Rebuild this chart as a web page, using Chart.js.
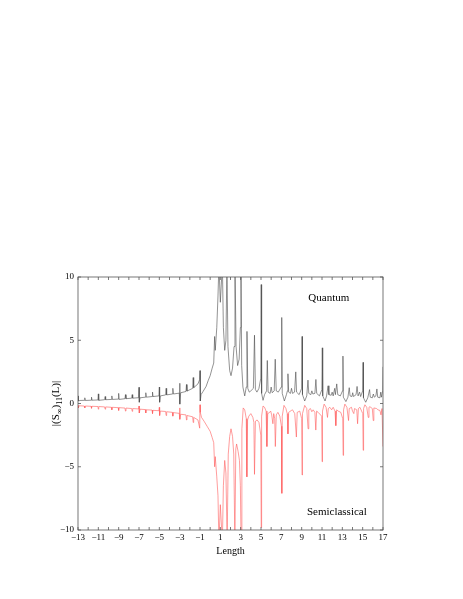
<!DOCTYPE html>
<html lang="en">
<head>
  <meta charset="UTF-8" />
  <title>Quantum vs Semiclassical</title>
  <script src="https://cdn.jsdelivr.net/npm/chart.js"></script>
  <style>
    body { margin: 0; background: #fff; }
    canvas { display: block; }
  </style>
</head>
<body>
  <canvas id="lengthChart" width="463" height="599"></canvas>

  <script>
    // Length spectrum (L, value)
    const quantumL = [
      -13.0, -12.96, -12.8, -12.38, -12.33, -12.28, -11.72, -11.67, -11.62, -11.04, -11.0, -10.96,
      -10.38, -10.33, -10.28, -9.72, -9.67, -9.62, -9.04, -9.0, -8.96, -8.38, -8.33, -8.28,
      -7.72, -7.67, -7.62, -7.04, -7.0, -6.97, -6.9, -6.38, -6.33, -6.28, -5.72, -5.67,
      -5.62, -5.04, -5.0, -4.97, -4.9, -4.38, -4.33, -4.28, -3.72, -3.67, -3.62, -3.04,
      -3.0, -2.97, -2.9, -2.38, -2.33, -2.28, -1.72, -1.67, -1.62, -1.2, -1.03, -1.0,
      -0.97, -0.9, -0.7, -0.4, -0.2, 0.0, 0.2, 0.35, 0.44, 0.5, 0.65,
      0.77, 0.86, 1.0, 1.2, 1.3, 1.43, 1.55, 1.65, 1.75, 1.92, 2.05, 2.2,
      2.35, 2.44, 2.55, 2.7, 2.85, 2.97, 3.03, 3.1, 3.22, 3.4, 3.55, 3.62,
      3.7, 3.85, 4.0, 4.25, 4.36, 4.45, 4.6, 4.8, 4.98, 5.02, 5.06, 5.2,
      5.35, 5.55, 5.62, 5.7, 5.9, 6.0, 6.1, 6.3, 6.4, 6.5, 6.7, 6.99,
      7.04, 7.09, 7.3, 7.5, 7.6, 7.65, 7.72, 7.9, 8.0, 8.1, 8.3, 8.42,
      8.5, 8.75, 9.0, 9.04, 9.08, 9.3, 9.5, 9.62, 9.7, 9.9, 10.0, 10.1,
      10.3, 10.4, 10.48, 10.75, 10.99, 11.03, 11.07, 11.3, 11.45, 11.6, 11.68, 11.9,
      12.0, 12.1, 12.25, 12.32, 12.45, 12.55, 12.8, 13.02, 13.06, 13.1, 13.35, 13.55,
      13.68, 13.76, 13.95, 14.02, 14.1, 14.35, 14.45, 14.55, 14.7, 14.8, 15.0, 15.04,
      15.08, 15.3, 15.5, 15.68, 15.75, 15.95, 16.05, 16.15, 16.3, 16.4, 16.48, 16.7,
      16.78, 16.85, 16.97, 17.0
    ];
    const quantumS = [
      0.6, 0.2, 0.24, 0.25, 0.45, 0.24, 0.26, 0.5, 0.26, 0.28, 0.76, 0.25,
      0.3, 0.55, 0.3, 0.32, 0.6, 0.32, 0.35, 0.8, 0.32, 0.38, 0.7, 0.38,
      0.42, 0.7, 0.42, 0.46, 1.28, 0.1, 0.45, 0.5, 0.85, 0.5, 0.55, 0.9,
      0.55, 0.6, 1.3, 0.1, 0.6, 0.68, 1.2, 0.68, 0.75, 1.2, 0.75, 0.82,
      1.6, -0.05, 0.85, 0.95, 1.5, 0.98, 1.2, 2.05, 1.25, 1.55, 1.9, 2.6,
      0.2, 0.7, 0.95, 1.35, 1.8, 2.2, 2.8, 3.2, 5.3, 4.2, 6.0,
      8.5, 11, 8.0, 11, 6.0, 4.2, 5.0, 11, 4.5, 2.6, 2.2, 2.8,
      4.5, 11, 4.5, 3.0, 3.5, 6.0, 11, 3.0, 1.3, 0.6, 1.3, 5.7,
      1.2, 0.9, 1.0, 1.2, 5.4, 1.1, 0.9, 1.2, 2.0, 9.4, 0.8, 0.25,
      0.7, 1.0, 3.4, 0.9, 0.8, 1.3, 0.85, 1.0, 3.5, 1.0, 0.9, 1.3,
      6.8, 0.8, 0.2, 0.7, 1.0, 2.35, 0.9, 0.8, 1.2, 0.8, 0.9, 2.5,
      0.9, 0.7, 1.2, 5.3, 0.7, 0.2, 0.6, 1.85, 0.8, 0.7, 1.0, 0.75,
      0.8, 1.9, 0.8, 0.6, 1.1, 4.4, 0.6, 0.2, 0.6, 1.4, 0.7, 0.65,
      0.9, 0.6, 1.2, 0.7, 1.55, 0.7, 0.6, 1.0, 3.75, 0.5, 0.15, 0.5,
      1.25, 0.6, 0.55, 0.85, 0.55, 0.7, 1.35, 0.6, 0.9, 0.55, 1.0, 3.25,
      0.45, 0.1, 0.45, 1.1, 0.5, 0.45, 0.75, 0.5, 0.6, 1.15, 0.5, 0.45,
      0.9, 0.5, 1.0, 2.9
    ];
    const semiL = [
      -13.0, -12.96, -12.9, -12.38, -12.33, -12.28, -11.72, -11.67, -11.62, -11.04, -11.0, -10.96,
      -10.38, -10.33, -10.28, -9.72, -9.67, -9.62, -9.04, -9.0, -8.96, -8.38, -8.33, -8.28,
      -7.72, -7.67, -7.62, -7.04, -7.0, -6.97, -6.9, -6.38, -6.33, -6.28, -5.72, -5.67,
      -5.62, -5.04, -5.0, -4.97, -4.9, -4.38, -4.33, -4.28, -3.72, -3.67, -3.62, -3.04,
      -3.0, -2.97, -2.9, -2.38, -2.33, -2.28, -1.72, -1.67, -1.62, -1.2, -1.03, -1.0,
      -0.97, -0.85, -0.6, -0.3, 0.0, 0.2, 0.35, 0.44, 0.5, 0.65, 0.77, 0.86,
      1.0, 1.2, 1.3, 1.43, 1.55, 1.67, 1.78, 1.92, 2.05, 2.2, 2.32, 2.43,
      2.52, 2.6, 2.75, 2.88, 2.97, 3.04, 3.12, 3.25, 3.4, 3.55, 3.61, 3.68,
      3.8, 4.0, 4.2, 4.3, 4.36, 4.45, 4.62, 4.8, 4.98, 5.02, 5.06, 5.2,
      5.35, 5.5, 5.58, 5.66, 5.78, 5.95, 6.05, 6.17, 6.25, 6.35, 6.41, 6.5,
      6.66, 6.85, 7.01, 7.05, 7.09, 7.26, 7.45, 7.58, 7.65, 7.72, 7.99, 8.1,
      8.32, 8.48, 8.56, 8.81, 9.0, 9.04, 9.08, 9.3, 9.5, 9.63, 9.7, 9.86,
      10.0, 10.13, 10.3, 10.39, 10.47, 10.62, 10.97, 11.01, 11.05, 11.21, 11.4, 11.54,
      11.62, 11.77, 11.95, 12.1, 12.28, 12.36, 12.44, 12.59, 12.85, 13.04, 13.08, 13.12,
      13.25, 13.45, 13.61, 13.68, 13.9, 14.0, 14.13, 14.2, 14.42, 14.5, 14.58, 14.73,
      15.01, 15.05, 15.09, 15.22, 15.4, 15.55, 15.62, 15.71, 15.95, 16.04, 16.1, 16.37,
      16.5, 16.7, 16.8, 16.9, 17.0
    ];
    const semiS = [
      -0.15, -0.35, -0.18, -0.2, -0.35, -0.2, -0.22, -0.38, -0.22, -0.24, -0.45, -0.24,
      -0.27, -0.45, -0.27, -0.3, -0.5, -0.3, -0.33, -0.55, -0.33, -0.36, -0.6, -0.36,
      -0.4, -0.62, -0.4, -0.43, -0.2, -0.75, -0.45, -0.48, -0.75, -0.5, -0.52, -0.8,
      -0.54, -0.57, -0.3, -0.95, -0.6, -0.63, -0.95, -0.65, -0.7, -1.0, -0.72, -0.78,
      -0.35, -1.25, -0.85, -0.9, -1.3, -0.95, -1.05, -1.5, -1.1, -1.3, -1.95, -0.1,
      -0.7, -1.1, -1.4, -1.8, -2.2, -2.7, -3.1, -5.0, -4.2, -5.8, -7.3, -11,
      -8.0, -11, -6.5, -4.5, -5.5, -11, -4.0, -2.6, -2.0, -2.6, -4.0, -11,
      -3.6, -3.2, -3.8, -4.5, -6.5, -11, -2.0, -0.35, -0.5, -1.2, -5.8, -1.3,
      -1.0, -0.8, -1.1, -1.5, -5.6, -1.4, -1.3, -1.5, -2.5, -9.8, -1.0, -0.2,
      -0.3, -0.6, -3.4, -0.8, -0.75, -0.6, -0.9, -1.6, -0.8, -1.2, -3.4, -0.9,
      -0.7, -1.0, -1.8, -7.1, -1.0, -0.15, -0.4, -0.8, -2.4, -0.7, -0.55, -0.5,
      -0.8, -2.65, -0.7, -0.6, -1.2, -5.65, -0.8, -0.15, -0.4, -2.0, -0.5, -0.4,
      -0.65, -0.5, -0.7, -2.1, -0.6, -0.7, -1.0, -4.6, -0.6, -0.05, -0.3, -1.1,
      -0.4, -0.3, -0.5, -0.3, -0.6, -1.75, -0.5, -0.6, -0.7, -1.2, -4.1, -0.5,
      -0.05, -0.3, -1.35, -0.4, -0.3, -0.6, -0.8, -0.4, -0.5, -1.6, -0.4, -0.3,
      -0.8, -3.7, -0.4, -0.1, -0.3, -1.1, -0.3, -0.25, -0.4, -1.35, -0.35, -0.4,
      -0.5, -0.55, -0.9, -0.4, -3.4
    ];
    const yTicks = [-10, -5, 0, 5, 10];

    const serif = '"Liberation Serif", "DejaVu Serif", serif';
    const minus = v => String(v).replace('-', '\u2212');

    // frame, inward ticks, y title with subscripts, curve labels
    const decorations = {
      id: 'decorations',
      afterDraw(chart) {
        const { ctx, chartArea: a, scales: { x, y } } = chart;
        ctx.save();
        ctx.strokeStyle = '#555';
        ctx.lineWidth = 0.8;
        ctx.strokeRect(a.left, a.top, a.right - a.left, a.bottom - a.top);
        ctx.beginPath();
        for (let v = -13; v <= 17; v++) {
          const px = x.getPixelForValue(v);
          ctx.moveTo(px, a.bottom); ctx.lineTo(px, a.bottom - 3);
          ctx.moveTo(px, a.top); ctx.lineTo(px, a.top + 3);
        }
        yTicks.forEach(v => {
          const py = y.getPixelForValue(v);
          ctx.moveTo(a.left, py); ctx.lineTo(a.left + 3, py);
          ctx.moveTo(a.right, py); ctx.lineTo(a.right - 3, py);
        });
        ctx.stroke();

        ctx.fillStyle = '#000';
        ctx.textBaseline = 'alphabetic';
        ctx.font = '11px ' + serif;
        ctx.textAlign = 'center';
        ctx.fillText('Quantum', x.getPixelForValue(11.67), y.getPixelForValue(8.1));
        ctx.fillText('Semiclassical', x.getPixelForValue(12.46), y.getPixelForValue(-8.85));

        // |(S∞)11(L)|
        const parts = [
          ['|(S', 11, 0], ['\u221e', 8, 3], [')', 11, 0], ['11', 8, 3], ['(L)|', 11, 0]
        ];
        let total = 0;
        parts.forEach(p => { ctx.font = p[1] + 'px ' + serif; total += ctx.measureText(p[0]).width; });
        ctx.translate(59, (a.top + a.bottom) / 2);
        ctx.rotate(-Math.PI / 2);
        ctx.textAlign = 'left';
        let cx = -total / 2;
        parts.forEach(p => {
          ctx.font = p[1] + 'px ' + serif;
          ctx.fillText(p[0], cx, p[2]);
          cx += ctx.measureText(p[0]).width;
        });
        ctx.restore();
      }
    };

    new Chart(document.getElementById('lengthChart'), {
      type: 'line',
      data: {
        datasets: [{
          label: 'Quantum',
          data: quantumL.map((l, i) => ({ x: l, y: quantumS[i] })),
          borderColor: '#4a4a4a',
          borderWidth: 0.6,
          pointRadius: 0,
          tension: 0
        }, {
          label: 'Semiclassical',
          data: semiL.map((l, i) => ({ x: l, y: semiS[i] })),
          borderColor: 'rgb(255,90,90)',
          borderWidth: 0.6,
          pointRadius: 0,
          tension: 0
        }]
      },
      options: {
        responsive: false,
        animation: false,
        layout: { padding: { left: 49, top: 277, right: 80, bottom: 42 } },
        plugins: { legend: { display: false }, tooltip: { enabled: false } },
        scales: {
          x: {
            type: 'linear',
            min: -13, max: 17,
            grid: { display: false, drawTicks: false },
            border: { display: false },
            afterFit: s => { s.height = 27; },
            ticks: {
              stepSize: 1, autoSkip: false, maxRotation: 0, padding: 2,
              color: '#000', font: { family: serif, size: 9 },
              callback: v => (Math.abs(v) % 2 === 1 ? minus(v) : '')
            },
            title: { display: true, text: 'Length', color: '#000', padding: 0, font: { family: serif, size: 10 } }
          },
          y: {
            min: -10, max: 10,
            grid: { display: false, drawTicks: false },
            border: { display: false },
            afterFit: s => { s.width = 29; },
            ticks: {
              stepSize: 5, padding: 4,
              color: '#000', font: { family: serif, size: 9 },
              callback: v => minus(v)
            }
          }
        }
      },
      plugins: [decorations]
    });
  </script>
</body>
</html>
